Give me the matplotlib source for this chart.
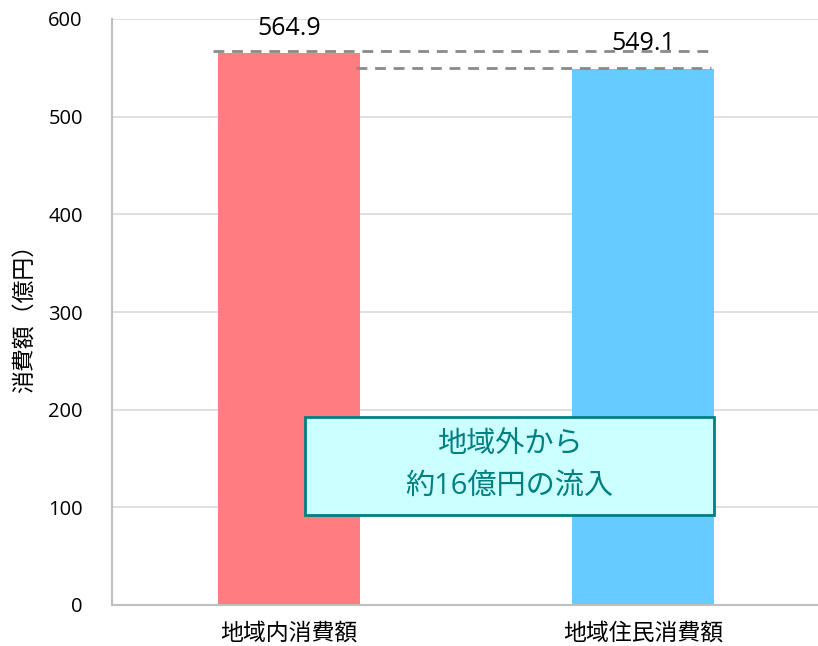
import matplotlib
matplotlib.use("Agg")
import matplotlib.pyplot as plt
from matplotlib.patches import Rectangle

plt.rcParams['font.family'] = ['Open Sans', 'Noto Sans CJK JP', 'DejaVu Sans']

categories = ["地域内消費額", "地域住民消費額"]
values = [564.9, 549.1]
value_labels = ["564.9", "549.1"]
bar_colors = ["#FF7C80", "#66CCFF"]
y_ticks = [0, 100, 200, 300, 400, 500, 600]
y_label = "消費額（億円）"
note_lines = ["地域外から", "約16億円の流入"]

W, H = 818, 646
fig = plt.figure(figsize=(W / 100, H / 100), dpi=100)
ax = fig.add_axes([112 / W, 1 - 605 / H, 708 / W, 586 / H])

x = list(range(len(categories)))
ax.bar(x, values, width=0.401, color=bar_colors, zorder=2)

ax.set_xlim(-0.5, 1.5)
ax.set_ylim(0, 600)
ax.set_yticks(y_ticks)
ax.set_yticklabels([str(t) for t in y_ticks], fontsize=14.5)
ax.set_xticks(x)
ax.set_xticklabels(categories, fontsize=16.5)
ax.tick_params(axis='y', length=0, pad=21)
ax.tick_params(axis='x', length=0, pad=12)

ax.grid(axis='y', color='#D9D9D9', linewidth=1.2, zorder=0)
ax.set_axisbelow(True)
for side in ('top', 'right'):
    ax.spines[side].set_visible(False)
for side in ('left', 'bottom'):
    ax.spines[side].set_color('#BFBFBF')
    ax.spines[side].set_linewidth(1.5)

# Dashed reference lines at each bar's level
dash = (0, (3.9, 2.8))
ax.plot([-0.215, 1.186], [values[0] + 2, values[0] + 2], linestyle=dash,
        color='#8A8A8A', linewidth=2, zorder=3)
ax.plot([0.189, 1.192], [values[1] + 1, values[1] + 1], linestyle=dash,
        color='#8A8A8A', linewidth=2, zorder=3)

# Value labels above bars
for xi, v, lab in zip(x, values, value_labels):
    ax.annotate(lab, (xi, v), xytext=(0, 13.5), textcoords='offset points',
                ha='center', va='baseline', fontsize=18, color='#000000',
                zorder=5)

# Inflow note box
bx0, bx1, by0, by1 = 0.045, 1.201, 92.1, 192.5
box = Rectangle((bx0, by0), bx1 - bx0, by1 - by0, facecolor='#CCFFFF',
                edgecolor='#008080', linewidth=2, zorder=4)
ax.add_patch(box)
cx, cy = (bx0 + bx1) / 2, (by0 + by1) / 2
for line, off in zip(note_lines, (15.5, -15.5)):
    ax.annotate(line, (cx, cy), xytext=(0, off), textcoords='offset points',
                ha='center', va='center', fontsize=21, color='#008080',
                zorder=5)

fig.text(26 / W, 1 - 313 / H, y_label, rotation=90, ha='center',
         va='center', fontsize=16.5)

fig.savefig("out.png", dpi=100)
